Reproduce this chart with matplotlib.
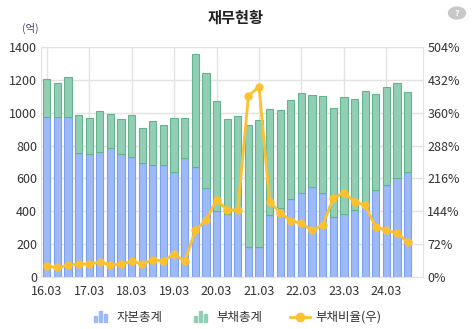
import matplotlib
matplotlib.use("Agg")
import matplotlib.pyplot as plt
from matplotlib.patches import Rectangle, Circle
from matplotlib.lines import Line2D
from matplotlib.legend_handler import HandlerBase

plt.rcParams['font.family'] = ['Noto Sans CJK KR', 'DejaVu Sans']

# quarters 16.03 .. 24.09
quarters = [f"{y}.{m}" for y in range(16, 25) for m in ("03", "06", "09", "12")][:35]
year_labels = ["16.03", "17.03", "18.03", "19.03", "20.03", "21.03", "22.03", "23.03", "24.03"]

# 자본총계 (억)
equity = [976, 976, 976, 757, 751, 763, 783, 751, 731, 696, 682, 682, 642, 723,
          672, 540, 399, 385, 393, 182, 182, 379, 419, 476, 510, 551, 510, 368,
          385, 405, 441, 530, 563, 605, 642]
# 부채총계 (억)
debt = [232, 206, 243, 229, 215, 249, 209, 209, 255, 211, 265, 245, 324, 243,
        688, 699, 674, 575, 587, 743, 773, 641, 595, 601, 613, 556, 591, 658,
        708, 676, 693, 583, 591, 577, 486]
# 부채비율 (%)
ratio = [23.3, 21.1, 25.5, 29.1, 28.4, 32.8, 27.0, 27.7, 34.2, 29.1, 37.9, 35.7,
         50.3, 34.2, 102, 125, 169, 147, 147, 397, 417, 165, 141, 123, 118, 102,
         114, 173, 185, 165, 157, 109, 103, 96, 77]

blue, blue_edge = "#9db9f6", "#7aa2f0"
green, green_edge = "#92ceb3", "#62b48e"
yellow = "#fdc02f"
txt = "#333333"

fig = plt.figure(figsize=(4.72, 3.29), dpi=100)
ax = fig.add_axes([0.0875, 0.158, 0.809, 0.699])
x = list(range(len(quarters)))

ax.bar(x, equity, width=0.68, color=blue, edgecolor=blue_edge, linewidth=0.8, zorder=2)
ax.bar(x, debt, bottom=equity, width=0.68, color=green, edgecolor=green_edge,
       linewidth=0.8, zorder=2)

ax.set_xlim(-0.51, 35.46)
ax.set_ylim(0, 1400)
ax.set_yticks(range(0, 1401, 200))
tick_pos = [quarters.index(q) for q in year_labels]
ax.set_xticks(tick_pos)
ax.set_xticklabels(year_labels)
ax.grid(True, color="#e3e3e3", linewidth=1, zorder=0)
for s in ax.spines.values():
    s.set_color("#e3e3e3")
ax.tick_params(axis="y", length=0, labelsize=9, colors=txt, pad=3)
ax.tick_params(axis="x", length=0, labelsize=9, colors=txt, pad=6)

ax2 = ax.twinx()
ax2.plot(x, ratio, color=yellow, linewidth=2, marker="o", markersize=5, zorder=3)
ax2.set_ylim(0, 504)
ax2.set_yticks(range(0, 505, 72))
ax2.set_yticklabels([f"{v}%" for v in range(0, 505, 72)])
ax2.tick_params(length=0, labelsize=9, colors=txt, pad=3)
for s in ax2.spines.values():
    s.set_visible(False)

fig.text(0.5, 0.945, "재무현황", ha="center", va="center", fontsize=11,
         fontweight="bold", color="#222222")
fig.text(0.065, 0.915, "(억)", ha="center", va="center", fontsize=7.5, color="#444466")

# help icon
fig.patches.append(Circle((457 / 472, 1 - 13 / 329), 0.018, transform=fig.transFigure,
                          color="#c8c8c8", figure=fig))
fig.text(457 / 472, 1 - 13 / 329, "?", ha="center", va="center", fontsize=6.5,
         color="white", fontweight="bold")


class BarIcon(HandlerBase):
    def __init__(self, color):
        super().__init__()
        self.color = color

    def create_artists(self, legend, orig, xd, yd, w, h, fontsize, trans):
        arts = []
        bw = w / 6
        for i, fr in enumerate([0.6, 1.0, 0.75]):
            r = Rectangle((xd + w * 0.2 + i * bw * 1.5, yd - h * 0.1), bw, h * 1.2 * fr,
                          color=self.color, transform=trans)
            arts.append(r)
        return arts


h1 = Rectangle((0, 0), 1, 1)
h2 = Rectangle((0, 0), 1, 1)
h3 = Line2D([], [], color=yellow, linewidth=2, marker="o", markersize=6)
fig.legend([h1, h2, h3], ["자본총계", "부채총계", "부채비율(우)"],
           loc="center", bbox_to_anchor=(0.5, 0.035), ncol=3, frameon=False,
           fontsize=9, handlelength=1.6, columnspacing=2.2, handletextpad=0.5,
           labelcolor=txt,
           handler_map={h1: BarIcon(blue), h2: BarIcon(green)})

fig.savefig("out.png", dpi=100)
